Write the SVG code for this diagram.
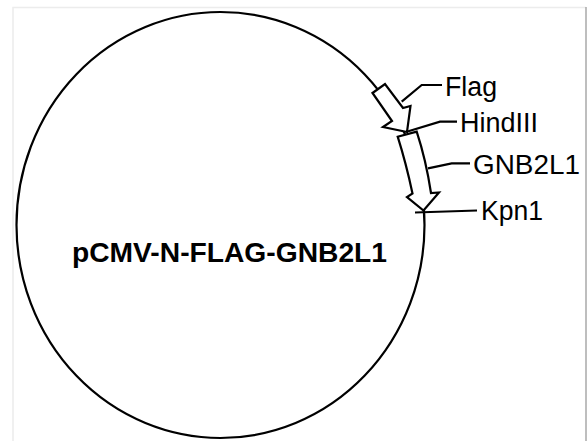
<svg xmlns="http://www.w3.org/2000/svg" width="587" height="441" viewBox="0 0 587 441">
<style>
.ln{fill:none;stroke:#000;stroke-width:2.2;stroke-linejoin:miter}
.arr{fill:#fff;stroke:#000;stroke-width:2.2;stroke-linejoin:miter}
.lbl{font-family:"Liberation Sans",Arial,sans-serif;font-size:27px;fill:#000}
.title{font-family:"Liberation Sans",Arial,sans-serif;font-size:28px;font-weight:bold;fill:#000}
</style>
<rect x="0" y="0" width="587" height="441" fill="#fff"/>
<g id="frame">
<path d="M13,441 V7.5 H586" fill="none" stroke="#ececec" stroke-width="1.5"/>
<line x1="586" y1="7" x2="586" y2="441" stroke="#a8a8a8" stroke-width="1.5"/>
</g>
<g id="plasmid">
<ellipse cx="220.5" cy="225" rx="204" ry="213" class="ln"/>
<text class="title" x="72" y="262" textLength="315" lengthAdjust="spacingAndGlyphs">pCMV-N-FLAG-GNB2L1</text>
</g>
<g id="connectors">
<polyline class="ln" points="401.7,101.7 421.7,85 442,85"/>
<polyline class="ln" points="406.7,131.7 440,121.7 457,121.7"/>
<polyline class="ln" points="428,168.3 451.7,163.3 470,163.3"/>
<polyline class="ln" points="415,212.5 477,210.5"/>
</g>
<g id="flag">
<polygon class="arr" points="372.5,93 385,84 403,108 410.5,106 407,132 383,127 392,121"/>
<text class="lbl" x="445" y="96" textLength="52" lengthAdjust="spacingAndGlyphs">Flag</text>
</g>
<g id="hindiii">
<text class="lbl" x="460" y="132" textLength="78" lengthAdjust="spacingAndGlyphs">HindIII</text>
</g>
<g id="gnb2l1">
<path class="arr" d="M397.7,136.7 Q406,163 412.5,193.5 L407,197 L423.5,210.5 L439,192.5 L431,193 Q426,160 416.7,131.7 Z"/>
<text class="lbl" x="473" y="174" textLength="107" lengthAdjust="spacingAndGlyphs">GNB2L1</text>
</g>
<g id="kpn1">
<text class="lbl" x="481" y="220" textLength="62" lengthAdjust="spacingAndGlyphs">Kpn1</text>
</g>
</svg>
